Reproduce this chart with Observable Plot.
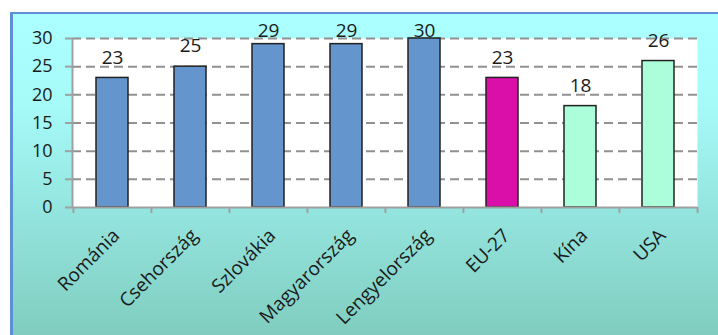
<!DOCTYPE html>
<html>
<head>
<meta charset="utf-8">
<script src="https://cdn.jsdelivr.net/npm/d3@7"></script>
<script src="https://cdn.jsdelivr.net/npm/@observablehq/plot@0.6"></script>
<style>
  html, body { margin: 0; padding: 0; overflow: hidden; background: #fff; width: 718px; height: 335px; }
  #bg { position: absolute; left: 10px; top: 12px; width: 740px; height: 360px;
        border-left: 3px solid #5d8fd6; border-top: 2px solid #5d8fd6;
        background: linear-gradient(to bottom, #abffff 0px, #a6faf8 90px, #93e4de 200px, #80cdbf 323px); }
  #chart { position: absolute; left: 0; top: 0; }
</style>
</head>
<body>
<div id="bg"></div>
<div id="chart"></div>
<script>
const categories = ["Románia", "Csehország", "Szlovákia", "Magyarország", "Lengyelország", "EU-27", "Kína", "USA"];
const values = [23, 25, 29, 29, 30, 23, 18, 26];
const colors = ["#6495cd", "#6495cd", "#6495cd", "#6495cd", "#6495cd", "#da0fa9", "#abfed9", "#abfed9"];
const yTicks = [0, 5, 10, 15, 20, 25, 30];

const data = categories.map((name, i) => ({name, value: values[i], color: colors[i]}));

const W = 718, H = 335, mL = 72, mR = 21, mT = 38, mB = 128;
const step = (W - mL - mR) / categories.length;
const font = "'Open Sans', sans-serif";

const chart = Plot.plot({
  width: W, height: H,
  marginLeft: mL, marginRight: mR, marginTop: mT, marginBottom: mB,
  style: {background: "transparent", fontFamily: font, fontSize: "18px", color: "#1a1a1a", overflow: "visible"},
  x: {domain: categories, paddingInner: 0.59, paddingOuter: 0.295, axis: null, label: null},
  y: {domain: [0, 30], axis: null, label: null},
  marks: [
    Plot.frame({fill: "white", stroke: null}),
    Plot.gridY(yTicks.filter(d => d > 0), {stroke: "#919191", strokeOpacity: 1, strokeWidth: 2, strokeDasharray: "9,5"}),
    Plot.barY(data, {x: "name", y: "value", fill: "color", stroke: "#222", strokeWidth: 1.5}),
    Plot.ruleY([0], {stroke: "#a0a0a0", strokeWidth: 2}),
    Plot.axisY(yTicks, {tickSize: 7, tickPadding: 13, stroke: "#a0a0a0", strokeWidth: 2, fill: "#1a1a1a", fontSize: 18, tickFormat: d => d, label: null}),
    Plot.axisX(categories, {tickSize: 6, text: null, dx: -step / 2, stroke: "#a0a0a0", strokeWidth: 2, label: null}),
    Plot.axisX(categories.slice(-1), {tickSize: 6, text: null, dx: step / 2, stroke: "#a0a0a0", strokeWidth: 2, label: null}),
    Plot.text(data, {x: "name", y: d => Math.min(d.value + 3.6, 31.3), text: d => String(d.value), fontSize: 19, fill: "#1a1a1a", lineAnchor: "middle"}),
    Plot.text(categories, {x: d => d, frameAnchor: "bottom", rotate: -45, textAnchor: "end", lineAnchor: "middle", dy: 25, dx: 4, fontSize: 19, fill: "#1a1a1a"})
  ]
});

// vertical axis line along the left edge of the plot area
const yAxisLine = Plot.plot({
  width: W, height: H,
  marginLeft: mL, marginRight: mR, marginTop: mT, marginBottom: mB,
  style: {background: "transparent"},
  x: {domain: [0, 1], axis: null},
  y: {domain: [0, 30], axis: null},
  marks: [Plot.ruleX([0], {y1: 0, y2: 30, stroke: "#a0a0a0", strokeWidth: 2})]
});
const g = yAxisLine.querySelector("g[aria-label='rule']");
if (g) chart.appendChild(g);
document.getElementById("chart").appendChild(chart);
</script>
</body>
</html>
